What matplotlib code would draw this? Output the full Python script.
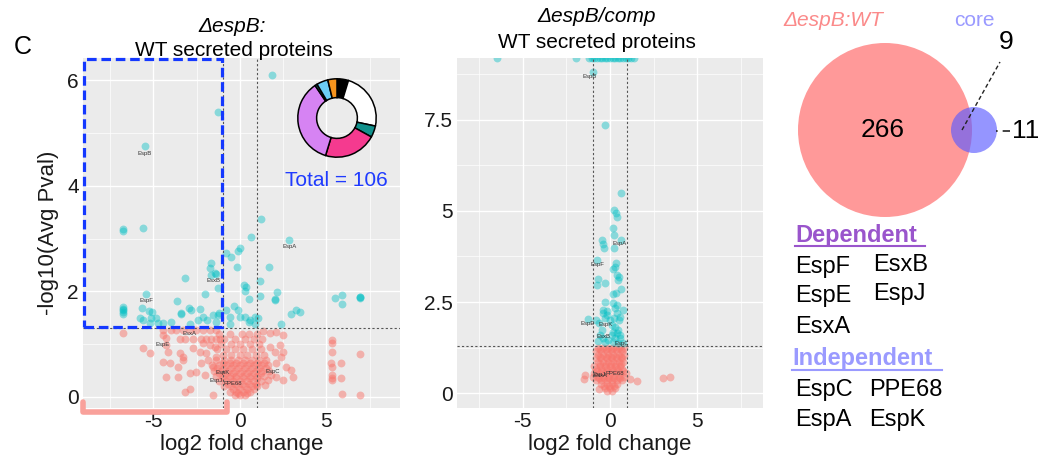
import matplotlib
matplotlib.use("Agg")
import matplotlib.pyplot as plt
from matplotlib.patches import Circle, Rectangle
import numpy as np

plt.rcParams['font.family'] = ['Liberation Sans', 'DejaVu Sans']

W, H = 1044, 465
TEAL = '#00BFC4'
SALMON = '#F8766D'

# ---- panel 1: dEspB vs WT, significant (teal) points
p1_sig_x = [-5.5, 1.85, -1.27, 1.21, -6.76, -6.76, -5.6, 0.64, 2.85, -0.81, -0.52, 0.0, -0.1,
            -1.68, -1.73, -0.17, 1.68, -1.45, -1.68, -1.39, -3.18, 1.16, -1.27, 0.23, 0.35, 0.29,
            1.16, 0.52, 2.14, 2.02, 2.02, 5.5, 5.9, 5.9, 6.94, 6.94, 6.94, -2.0, -5.43,
            -6.76, -6.76, -6.76, -6.76, -6.76, -5.67, -5.26, -5.09, -5.78, -5.6, -5.14, -4.86,
            -5.2, -4.74, -3.64, -3.41, -3.41, -2.95, -2.83, -2.31, -2.43, -2.14, -1.91, -1.56,
            -1.27, -1.21, -2.89, -3.99, -4.45, -1.39, -0.81, -0.12, -0.35, -0.58, 0.0, 0.29,
            0.58, 0.87, 0.52, 1.04, 2.37, 2.95, 3.24, 3.47, -0.6, 0.87]
p1_sig_y = [4.75, 6.1, 5.4, 3.37, 3.18, 3.14, 3.2, 3.03, 2.97, 2.73, 2.65, 2.82, 2.77,
            2.54, 2.44, 2.46, 2.46, 2.35, 2.31, 2.33, 2.25, 2.2, 2.06, 2.12, 2.08, 2.0,
            1.91, 1.86, 1.99, 1.86, 1.84, 1.88, 1.93, 1.76, 1.89, 1.88, 1.9, 1.95, 1.95,
            1.7, 1.67, 1.65, 1.6, 1.58, 1.69, 1.63, 1.61, 1.5, 1.46, 1.5, 1.5,
            1.4, 1.4, 1.82, 1.59, 1.57, 1.69, 1.65, 1.67, 1.46, 1.52, 1.46, 1.55,
            1.55, 1.59, 1.38, 1.42, 1.4, 1.42, 1.65, 1.65, 1.72, 1.52, 1.52, 1.52,
            1.46, 1.52, 1.42, 1.5, 1.38, 1.57, 1.65, 1.61, 1.39, 1.39]

# ---- panel 1: non-significant (salmon) points
p1_ns_x = [-6.76, -4.45, -3.99, -3.7, -3.3, -2.89, -2.54, -2.14, -1.73, -1.39,
           -4.45, -4.28, -3.47, -3.18, -2.72, -2.25, -1.97, -1.68, -1.39, -1.16,
           1.33, 1.73, 2.08, 2.49, -5.6, -5.2, -4.28, -4.16, -3.47, -3.3, -2.72, -2.31,
           -4.45, -4.05, -3.58, -3.3, -4.28, -3.58, -2.89, -2.54, -2.02, -3.18, -2.89, -1.56,
           5.32, 5.32, 5.32, 5.26, 5.32, 5.32, 5.32, 5.32, 5.84, 5.84, 6.94, 5.9, 6.94,
           1.73, 2.02, 2.31, 2.49, 2.37, 2.08, 2.66, 2.95, 3.06, 2.08, 2.49, 1.62, 1.45, 1.79,
           -2.14, -1.73, -1.97, -1.45, -1.85, -2.25, -1.56, -1.39,
           # dense centre
           -1.2, -0.6, 0.1, 0.5, 1.0,
           -0.9, -0.3, 0.3, 0.8, 1.3,
           -1.1, -0.5, 0.0, 0.6, 1.1,
           -1.3, -0.8, -0.3, 0.2, 0.7, 1.2,
           -1.0, -0.5, 0.0, 0.4, 0.9, 1.4,
           -1.4, -0.9, -0.5, -0.1, 0.3, 0.7, 1.1, 1.5,
           -1.6, -1.2, -0.8, -0.4, 0.0, 0.4, 0.8, 1.2, 1.6,
           -1.5, -1.1, -0.7, -0.3, 0.1, 0.5, 0.9, 1.3, 1.7,
           -1.4, -1.0, -0.6, -0.2, 0.2, 0.6, 1.0, 1.4,
           -1.2, -0.8, -0.4, 0.0, 0.4, 0.8, 1.2,
           -0.9, -0.5, -0.1, 0.3, 0.7, 1.0,
           -0.6, -0.2, 0.2, 0.6,
           -0.3, 0.0, 0.3,
           -1.0, -0.6, -0.2, 0.2, 0.6, 1.0, 1.4,
           -1.3, -0.9, -0.5, -0.1, 0.3, 0.7, 1.1, 1.5,
           -1.2, -0.8, -0.4, 0.0, 0.4, 0.8, 1.2,
           -1.0, -0.6, -0.2, 0.2, 0.6, 1.0,
           -0.7, -0.3, 0.1, 0.5, 0.9,
           -0.4, 0.0, 0.4, 0.8,
           -0.1, 0.4]
p1_ns_y = [1.21, 1.27, 1.27, 1.27, 1.27, 1.27, 1.27, 1.27, 1.27, 1.27,
           1.17, 1.12, 1.1, 1.1, 1.1, 1.1, 1.1, 1.1, 1.1, 1.1,
           1.25, 1.21, 1.23, 1.17, 0.93, 0.83, 0.98, 0.85, 0.83, 0.76, 0.93, 0.85,
           0.66, 0.64, 0.57, 0.70, 0.38, 0.38, 0.45, 0.47, 0.42, 0.09, 0.15, 0.04,
           1.08, 1.02, 0.85, 0.64, 0.57, 0.42, 0.36, 0.32, 0.64, 0.36, 0.81, 0.06, 0.04,
           0.95, 0.85, 0.98, 0.85, 0.76, 0.64, 0.57, 0.51, 0.38, 0.38, 0.32, 0.32, 0.23, 0.42,
           1.02, 0.98, 0.83, 0.95, 0.70, 0.64, 0.57, 0.76,
           1.2, 1.2, 1.2, 1.2, 1.2,
           1.1, 1.1, 1.1, 1.1, 1.1,
           1.0, 1.0, 1.0, 1.0, 1.0,
           0.9, 0.9, 0.9, 0.9, 0.9, 0.9,
           0.8, 0.8, 0.8, 0.8, 0.8, 0.8,
           0.7, 0.7, 0.7, 0.7, 0.7, 0.7, 0.7, 0.7,
           0.6, 0.6, 0.6, 0.6, 0.6, 0.6, 0.6, 0.6, 0.6,
           0.5, 0.5, 0.5, 0.5, 0.5, 0.5, 0.5, 0.5, 0.5,
           0.4, 0.4, 0.4, 0.4, 0.4, 0.4, 0.4, 0.4,
           0.3, 0.3, 0.3, 0.3, 0.3, 0.3, 0.3,
           0.2, 0.2, 0.2, 0.2, 0.2, 0.2,
           0.1, 0.1, 0.1, 0.1,
           0.03, 0.03, 0.03,
           0.65, 0.65, 0.65, 0.65, 0.65, 0.65, 0.65,
           0.55, 0.55, 0.55, 0.55, 0.55, 0.55, 0.55, 0.55,
           0.45, 0.45, 0.45, 0.45, 0.45, 0.45, 0.45,
           0.35, 0.35, 0.35, 0.35, 0.35, 0.35,
           0.25, 0.25, 0.25, 0.25, 0.25,
           0.15, 0.15, 0.15, 0.15,
           0.08, 0.08]

p1_lab = ['EspB', 'EspA', 'EsxB', 'EspF', 'EsxA', 'EspE', 'EspK', 'EspJ', 'PPE68', 'EspC']
p1_lab_x = [-5.5, 2.85, -1.55, -5.4, -2.9, -4.45, -0.98, -1.39, -0.4, 1.9]
p1_lab_y = [4.62, 2.85, 2.2, 1.82, 1.2, 1.0, 0.47, 0.32, 0.25, 0.49]

# ---- panel 2: dEspB/comp vs WT
p2_sig_x = [-6.46, -1.94, -1.2, -1.05, -0.9, -0.75, -0.6, -0.45, -0.3, -0.15, 0.0, 0.15, 0.3,
            0.45, 0.6, 0.75, 0.9, 1.05, 1.2, 1.4,
            -0.97, -0.29, 0.63, 0.23, 0.34, 0.4,
            0.17, 0.23, 0.63, -0.46, -0.4, -0.34, 0.23, -0.74, 0.34, 0.29, 0.17,
            0.4, 0.51, 0.46, -0.69, -0.29, -0.74, 0.63, 0.17, 0.34,
            -0.29, 0.17, 0.4, 0.74, 0.29, -0.4, -0.17, -0.4, -0.17, -0.29,
            0.4, 0.57, 0.23, 0.51, -1.26, -0.8, -0.63,
            0.0, 0.11, 0.29, 0.46, 0.17, 0.4, 0.57, 0.11, 0.29, 0.57, -0.11, 0.17, 0.46, 0.74,
            -0.46, -0.57, -0.4, -0.69, -0.29]
p2_sig_y = [9.2, 9.2, 9.2, 9.2, 9.2, 9.2, 9.2, 9.2, 9.2, 9.2, 9.2, 9.2, 9.2,
            9.2, 9.2, 9.2, 9.2, 9.2, 9.2, 9.2,
            8.82, 7.36, 5.49, 5.03, 4.95, 4.84,
            4.53, 4.34, 4.2, 4.2, 4.09, 3.98, 3.98, 3.65, 3.57, 3.46, 3.41,
            3.24, 3.19, 3.1, 3.13, 3.02, 2.97, 2.86, 2.72, 2.75,
            2.5, 2.47, 2.42, 2.28, 2.34, 2.28, 2.25, 2.2, 2.14, 2.06,
            2.2, 2.09, 2.06, 2.01, 2.03, 2.0, 1.92,
            2.0, 1.87, 1.81, 1.73, 1.68, 1.65, 1.59, 1.59, 1.51, 1.51, 1.46, 1.4, 1.37, 1.37,
            1.73, 1.59, 1.51, 1.43, 1.4]

p2_ns_x = [-1.43, -1.49, 1.14, 1.54, 3.03, 3.43, -0.63, 0.74, 0.8,
           -0.7, -0.4, -0.1, 0.2, 0.5, 0.8,
           -0.8, -0.5, -0.2, 0.1, 0.4, 0.7,
           -0.7, -0.4, -0.1, 0.2, 0.5,
           -0.8, -0.5, -0.2, 0.1, 0.4, 0.7,
           -0.7, -0.4, -0.1, 0.2, 0.5,
           -0.9, -0.6, -0.3, 0.0, 0.3, 0.6,
           -0.8, -0.5, -0.2, 0.1, 0.4, 0.7,
           -0.9, -0.6, -0.3, 0.0, 0.3, 0.6, 0.9,
           -1.0, -0.7, -0.4, -0.1, 0.2, 0.5, 0.8,
           -0.8, -0.5, -0.2, 0.1, 0.4, 0.7,
           -0.5, -0.2, 0.1, 0.4,
           -0.3, 0.0, 0.3,
           -0.15, 0.1,
           -0.55, -0.25, 0.05, 0.35, 0.65,
           -0.55, -0.25, 0.05, 0.35, 0.65,
           -0.55, -0.25, 0.05, 0.35, 0.65,
           -0.75, -0.45, -0.15, 0.15, 0.45, 0.75,
           -0.65, -0.35, -0.05, 0.25, 0.55,
           -0.35, -0.05, 0.25]
p2_ns_y = [0.49, 0.38, 0.38, 0.33, 0.41, 0.44, 0.11, 0.85, 1.04,
           1.25, 1.25, 1.25, 1.25, 1.25, 1.25,
           1.15, 1.15, 1.15, 1.15, 1.15, 1.15,
           1.05, 1.05, 1.05, 1.05, 1.05,
           0.95, 0.95, 0.95, 0.95, 0.95, 0.95,
           0.85, 0.85, 0.85, 0.85, 0.85,
           0.75, 0.75, 0.75, 0.75, 0.75, 0.75,
           0.65, 0.65, 0.65, 0.65, 0.65, 0.65,
           0.55, 0.55, 0.55, 0.55, 0.55, 0.55, 0.55,
           0.45, 0.45, 0.45, 0.45, 0.45, 0.45, 0.45,
           0.35, 0.35, 0.35, 0.35, 0.35, 0.35,
           0.25, 0.25, 0.25, 0.25,
           0.15, 0.15, 0.15,
           0.05, 0.05,
           1.2, 1.2, 1.2, 1.2, 1.2,
           1.0, 1.0, 1.0, 1.0, 1.0,
           0.8, 0.8, 0.8, 0.8, 0.8,
           0.6, 0.6, 0.6, 0.6, 0.6, 0.6,
           0.4, 0.4, 0.4, 0.4, 0.4,
           0.2, 0.2, 0.2]

p2_lab = ['EspB', 'EspA', 'EspF', 'EspE', 'EspK', 'EsxB', 'EspC', 'PPE68', 'EspJ', 'EsxA']
p2_lab_x = [-1.14, 0.57, -0.74, -1.3, -0.23, -0.4, 0.7, 0.3, -0.6, -0.55]
p2_lab_y = [8.68, 4.1, 3.54, 1.92, 1.87, 1.54, 1.35, 0.55, 0.52, 0.47]

# ---- donut of the 106 proteins in the box
donut_counts = [5, 25, 5, 23, 38, 1, 5, 4]
donut_colors = ['black', 'white', '#12918c', '#f53a8f', '#d683f3', '#0d6e6a', '#6ccdf4', '#f7941d']

# ---- venn
venn_sets = ['ΔespB:WT', 'core']
venn_only_a, venn_both, venn_only_b = 266, 9, 11
dependent = ['EspF', 'EsxB', 'EspE', 'EspJ', 'EsxA']
independent = ['EspC', 'PPE68', 'EspA', 'EspK']


def px(x, y):
    return x / W, 1 - y / H


def volcano(ax, sx, sy, nx, ny, labs, lx, ly, xlim, ylim, yt, ymin):
    ax.set_facecolor('#EBEBEB')
    ax.set_xlim(*xlim)
    ax.set_ylim(*ylim)
    for v in [-7.5, -2.5, 2.5, 7.5]:
        ax.axvline(v, color='white', lw=0.5, zorder=0)
    for v in ymin:
        ax.axhline(v, color='white', lw=0.5, zorder=0)
    ax.set_xticks([-5, 0, 5])
    ax.set_xticklabels(['-5', '0', '5'])
    ax.set_yticks(yt)
    ax.grid(True, color='white', lw=1.0, zorder=0)
    ax.set_axisbelow(True)
    for s in ax.spines.values():
        s.set_visible(False)
    ax.tick_params(length=0, labelsize=15, labelcolor='#1a1a1a', pad=3)
    ax.scatter(nx, ny, s=32, c=SALMON, alpha=0.5, lw=0, zorder=2)
    ax.scatter(sx, sy, s=32, c=TEAL, alpha=0.42, lw=0, zorder=2)
    for t, x, y in zip(labs, lx, ly):
        ax.text(x, y, t, fontsize=4.3, color='#333333', ha='center', va='center', zorder=4)
    ax.axvline(-1, color='#555555', lw=0.8, ls=(0, (2, 2)), zorder=3)
    ax.axvline(1, color='#555555', lw=0.8, ls=(0, (2, 2)), zorder=3)
    ax.axhline(1.3, color='#555555', lw=0.8, ls=(0, (2, 2)), zorder=3)
    ax.set_xlabel('log2 fold change', fontsize=16, color='#1a1a1a', labelpad=2)


fig = plt.figure(figsize=(W / 100, H / 100), dpi=100)

ax1 = fig.add_axes([83 / W, 1 - 408 / H, 317 / W, 350 / H])
volcano(ax1, p1_sig_x, p1_sig_y, p1_ns_x, p1_ns_y, p1_lab, p1_lab_x, p1_lab_y,
        (-9.07, 9.25), (-0.21, 6.42), [0, 2, 4, 6], [1, 3, 5])
ax1.set_ylabel('-log10(Avg Pval)', fontsize=16, color='#1a1a1a', labelpad=6)

# blue selection box and pink bracket
ax1.add_patch(Rectangle((-9.0, 1.33), 7.96, 5.07, fill=False, ec='#1438ff', lw=2.3,
                        ls=(0, (3, 1.5)), clip_on=False, zorder=5))
ax1.plot([-9.05, -9.05, -0.75, -0.75], [-0.1, -0.28, -0.28, -0.1], color='#f9a19b',
         lw=4, clip_on=False, solid_capstyle='round', zorder=5)

ax2 = fig.add_axes([457 / W, 1 - 408 / H, 306 / W, 350 / H])
volcano(ax2, p2_sig_x, p2_sig_y, p2_ns_x, p2_ns_y, p2_lab, p2_lab_x, p2_lab_y,
        (-8.75, 8.75), (-0.41, 9.2), [0, 2.5, 5, 7.5], [1.25, 3.75, 6.25, 8.75])
ax2.set_yticklabels(['0', '2.5', '5', '7.5'])

# donut inset
axd = fig.add_axes([288 / W, 1 - 167 / H, 98 / W, 98 / H])
axd.pie(donut_counts, colors=donut_colors, startangle=90, counterclock=False,
        wedgeprops=dict(width=0.48, edgecolor='black', linewidth=1.1))
axd.set_aspect('equal')
fig.text(*px(336, 180), 'Total = 106', color='#1f3bff', fontsize=15, ha='center', va='center')

# titles
fig.text(*px(23, 47), 'C', fontsize=18, ha='center', va='center')
fig.text(*px(232, 27), 'ΔespB:', fontsize=15, style='italic', ha='center', va='center')
fig.text(*px(234, 50), 'WT secreted proteins', fontsize=15, ha='center', va='center')
fig.text(*px(597, 17), 'ΔespB/comp', fontsize=15, style='italic', ha='center', va='center')
fig.text(*px(597, 42), 'WT secreted proteins', fontsize=15, ha='center', va='center')

# venn + lists in pixel coordinates
axv = fig.add_axes([770 / W, 0, 274 / W, 1])
axv.set_xlim(770, 1044)
axv.set_ylim(H, 0)
axv.axis('off')
axv.add_patch(Circle((885, 130), 87, fc='#ff6e6e', alpha=0.7, lw=0))
axv.add_patch(Circle((974, 130), 23, fc='#5c5cff', alpha=0.65, lw=0))
axv.text(883, 130, str(venn_only_a), fontsize=19, ha='center', va='center')
axv.text(1006, 42, str(venn_both), fontsize=19, ha='center', va='center')
axv.plot([962, 1000], [130, 62], color='#222222', lw=1, ls=(0, (3, 2)))
axv.plot([996, 1010], [131, 131], color='#222222', lw=1.2, ls=(0, (1, 3, 6, 1)))
axv.text(1012, 131, str(venn_only_b), fontsize=19, ha='left', va='center')
axv.text(833, 20, venn_sets[0], fontsize=15, color='#fb8a8a', style='italic', ha='center', va='center')
axv.text(974, 20, venn_sets[1], fontsize=15, color='#9a9aff', ha='center', va='center')

axv.text(795, 235, 'Dependent', fontsize=17, fontweight='bold', color='#9a55cc', ha='left', va='center')
axv.plot([795, 925], [246, 246], color='#9a55cc', lw=1.5)
dep_pos = [(795, 267), (873, 265), (795, 296), (873, 294), (795, 327)]
for t, (x, y) in zip(dependent, dep_pos):
    axv.text(x, y, t, fontsize=17, ha='left', va='center')
axv.text(792, 358, 'Independent', fontsize=17, fontweight='bold', color='#9a9aff', ha='left', va='center')
axv.plot([792, 942], [370, 370], color='#9a9aff', lw=1.5)
ind_pos = [(795, 390), (869, 390), (795, 420), (869, 420)]
for t, (x, y) in zip(independent, ind_pos):
    axv.text(x, y, t, fontsize=17, ha='left', va='center')

fig.savefig('out.png', dpi=100)
